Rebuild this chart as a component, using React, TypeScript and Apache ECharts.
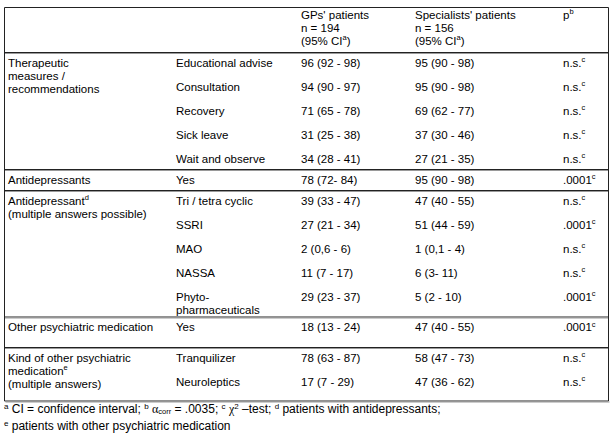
import React, { useEffect, useRef } from "react";
import * as echarts from "echarts";

// ---------- data ----------
const headerGP = ["GPs' patients", "n = 194", "(95% CI{sup|a})"];
const headerSpec = ["Specialists' patients", "n = 156", "(95% CI{sup|a})"];
const headerP = ["p{sup|b}"];

const groupLabels = [
  "Therapeutic\nmeasures /\nrecommendations",
  "Antidepressants",
  "Antidepressant{sup|d}\n(multiple answers possible)",
  "Other psychiatric medication",
  "Kind of other psychiatric\nmedication{sup|e}\n(multiple answers)",
];
const groupSizes = [5, 1, 5, 1, 2];

const items = [
  "Educational advise",
  "Consultation",
  "Recovery",
  "Sick leave",
  "Wait and observe",
  "Yes",
  "Tri / tetra cyclic",
  "SSRI",
  "MAO",
  "NASSA",
  "Phyto-\npharmaceuticals",
  "Yes",
  "Tranquilizer",
  "Neuroleptics",
];
const gpValues = [
  "96 (92 - 98)",
  "94 (90 - 97)",
  "71 (65 - 78)",
  "31 (25 - 38)",
  "34 (28 - 41)",
  "78 (72- 84)",
  "39 (33 - 47)",
  "27 (21 - 34)",
  "2 (0,6 - 6)",
  "11 (7 - 17)",
  "29 (23 - 37)",
  "18 (13 - 24)",
  "78 (63 - 87)",
  "17 (7 - 29)",
];
const specValues = [
  "95 (90 - 98)",
  "95 (90 - 98)",
  "69 (62 - 77)",
  "37 (30 - 46)",
  "27 (21 - 35)",
  "95 (90 - 98)",
  "47 (40 - 55)",
  "51 (44 - 59)",
  "1 (0,1 - 4)",
  "6 (3- 11)",
  "5 (2 - 10)",
  "47 (40 - 55)",
  "58 (47 - 73)",
  "47 (36 - 62)",
];
const pValues = [
  "n.s.", "n.s.", "n.s.", "n.s.", "n.s.",
  ".0001",
  "n.s.", ".0001", "n.s.", "n.s.", ".0001",
  ".0001",
  "n.s.", "n.s.",
];
const pNote = "c";

const footnotes = [
  "{fsup|a} CI = confidence interval; {fsup|b} {gr|α}{sub|corr} = .0035; {fsup|c} {gr|χ}{fsup|2} \u2013test; {fsup|d} patients with antidepressants;",
  "{fsup|e} patients with other psychiatric medication",
];

// ---------- layout ----------
const W = 615;
const H = 433;
const FONT = "'Liberation Sans', Arial, Helvetica, sans-serif";
const FS = 11.5;
const FS_FOOT = 12;
const LH = 13;
const PITCH = 24;
const OFF = 10.5;
const TABLE_L = 4.5;
const TABLE_R = 608.5;
const TABLE_T = 7.5;
const HEADER_LINE = 52;
const COLS = [8, 176, 301, 415, 563];
const groupPadLines = [0, 0, 0, 1, 0];
const groupBottomOff = [10.5, 10.5, 7, 7, 17.5];
const FOOT_Y = [409, 426];

const rich = {
  sup: { fontSize: 7.5, fontFamily: FONT, verticalAlign: "top" as const, height: 7, fill: "#000" },
  fsup: { fontSize: 8, fontFamily: FONT, verticalAlign: "top" as const, height: 7, fill: "#000" },
  sub: { fontSize: 7.5, fontFamily: FONT, verticalAlign: "bottom" as const, height: 9, fill: "#000" },
  gr: { fontSize: FS_FOOT, fontFamily: "'Liberation Serif', 'DejaVu Serif', serif", fill: "#000" },
};

function txt(x: number, centerFirst: number, text: string, fs: number = FS) {
  return {
    type: "text",
    x,
    y: centerFirst - LH / 2,
    silent: true,
    style: {
      text,
      fontSize: fs,
      fontFamily: FONT,
      fill: "#000",
      lineHeight: LH,
      verticalAlign: "top",
      align: "left",
      rich,
    },
  };
}

function hline(y: number) {
  return [
    {
      type: "line",
      silent: true,
      shape: { x1: TABLE_L, y1: y + 0.5, x2: TABLE_R, y2: y + 0.5 },
      style: { stroke: "#222", lineWidth: 1 },
    },
    {
      type: "line",
      silent: true,
      shape: { x1: TABLE_L, y1: y + 1.5, x2: TABLE_R, y2: y + 1.5 },
      style: { stroke: "#9a9a9a", lineWidth: 1 },
    },
  ];
}

function buildElements() {
  const els: any[] = [];
  const lines = (s: string) => s.split("\n").length;
  // header
  const hc = TABLE_T + 7;
  els.push(txt(COLS[2], hc, headerGP.join("\n")));
  els.push(txt(COLS[3], hc, headerSpec.join("\n")));
  els.push(txt(COLS[4], hc, headerP.join("\n")));
  els.push(...hline(HEADER_LINE));

  let y = HEADER_LINE;
  let idx = 0;
  groupLabels.forEach((label, g) => {
    const start = y + OFF;
    let cy = start;
    let bottom = start;
    for (let k = 0; k < groupSizes[g]; k++, idx++) {
      const it = items[idx];
      els.push(txt(COLS[1], cy, it));
      els.push(txt(COLS[2], cy, gpValues[idx]));
      els.push(txt(COLS[3], cy, specValues[idx]));
      els.push(txt(COLS[4], cy, pValues[idx] + "{sup|" + pNote + "}"));
      bottom = cy + (lines(it) - 1) * LH;
      cy = bottom + PITCH;
    }
    els.push(txt(COLS[0], start, label));
    bottom = Math.max(bottom, start + (lines(label) - 1) * LH, start + groupPadLines[g] * LH);
    y = bottom + groupBottomOff[g];
    if (g < groupLabels.length - 1) els.push(...hline(y));
  });
  // outer border
  els.push({
    type: "rect",
    silent: true,
    shape: { x: TABLE_L, y: TABLE_T, width: TABLE_R - TABLE_L, height: y - TABLE_T },
    style: { fill: "none", stroke: "#222", lineWidth: 1 },
  });
  els.push({
    type: "line",
    silent: true,
    shape: { x1: TABLE_L + 1, y1: y + 1, x2: TABLE_R + 1, y2: y + 1 },
    style: { stroke: "#9a9a9a", lineWidth: 1 },
  });
  footnotes.forEach((f, i) => {
    els.push(txt(4, FOOT_Y[i], f, FS_FOOT));
  });
  return els;
}

export default function App() {
  const ref = useRef<HTMLDivElement>(null);
  useEffect(() => {
    document.body.style.margin = "0";
    if (!ref.current) return;
    const chart = echarts.init(ref.current, undefined, { renderer: "svg" });
    chart.setOption({
      animation: false,
      backgroundColor: "#fff",
      graphic: { elements: buildElements() },
    });
    return () => chart.dispose();
  }, []);
  return <div ref={ref} style={{ width: W, height: H, position: "absolute", left: 0, top: 0 }} />;
}
